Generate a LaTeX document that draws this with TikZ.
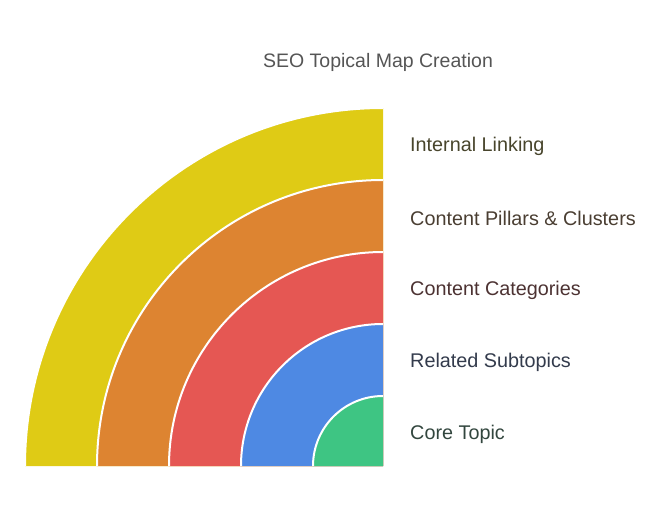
\documentclass[tikz,border=0pt]{standalone}
\usepackage{fontspec}
\usetikzlibrary{calc}
\setmainfont{Liberation Sans}
\definecolor{cyel}{HTML}{DFCB15}
\definecolor{cora}{HTML}{DD8431}
\definecolor{cred}{HTML}{E55753}
\definecolor{cblu}{HTML}{4E89E3}
\definecolor{cgrn}{HTML}{3EC583}
\definecolor{tyel}{HTML}{48452C}
\definecolor{tora}{HTML}{4A3E32}
\definecolor{tred}{HTML}{4C3232}
\definecolor{tblu}{HTML}{333B4C}
\definecolor{tgrn}{HTML}{32463E}
\definecolor{ttl}{HTML}{555555}
\begin{document}
\begin{tikzpicture}[x=1pt,y=-1pt,
  band/.style={draw=white,line width=2pt},
  lbl/.style={anchor=west,font=\fontsize{19.8}{22}\selectfont,inner sep=0pt}]
\useasboundingbox (0,0) rectangle (672,517);
\coordinate (c) at (383,466);
\foreach \r/\col in {358/cyel,286/cora,214/cred,142/cblu,70/cgrn}{
  \fill[\col] (c) -- ++(-\r,0) arc[start angle=180,end angle=270,radius=\r] -- cycle;
  \draw[band] ($(c)+(-\r,0)$) arc[start angle=180,end angle=270,radius=\r];
}
\node[font=\fontsize{19.5}{22}\selectfont,text=ttl] (title) at (378,62) {SEO Topical Map Creation};
\node[lbl,text=tyel] (l1) at (410,146) {Internal Linking};
\node[lbl,text=tora] (l2) at (410,218) {Content Pillars \& Clusters};
\node[lbl,text=tred] (l3) at (410,290) {Content Categories};
\node[lbl,text=tblu] (l4) at (410,362) {Related Subtopics};
\node[lbl,text=tgrn] (l5) at (410,434) {Core Topic};
\end{tikzpicture}
\end{document}
